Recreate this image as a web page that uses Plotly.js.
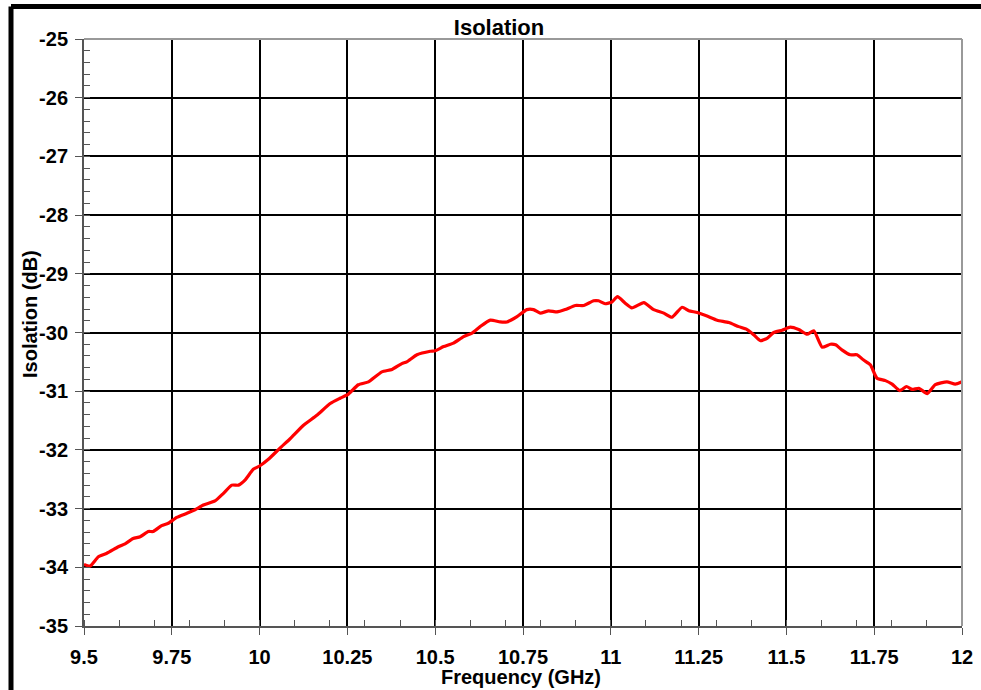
<!DOCTYPE html>
<html>
<head>
<meta charset="utf-8">
<script src="https://cdn.plot.ly/plotly-3.0.1.min.js"></script>
<style>html,body{margin:0;padding:0;background:#fff;}#chart{width:981px;height:690px;}</style>
</head>
<body>
<div id="chart"></div>
<script>
const freqGHz = [9.5, 9.517, 9.541, 9.565, 9.598, 9.617, 9.640, 9.660, 9.683, 9.697,
  9.721, 9.740, 9.764, 9.793, 9.816, 9.840, 9.873, 9.897, 9.921, 9.940,
  9.959, 9.982, 10.001, 10.025, 10.058, 10.087, 10.125, 10.163, 10.201, 10.229,
  10.253, 10.281, 10.310, 10.348, 10.377, 10.405, 10.419, 10.448, 10.486, 10.500,
  10.524, 10.552, 10.581, 10.605, 10.628, 10.657, 10.685, 10.704, 10.733, 10.761,
  10.780, 10.799, 10.823, 10.847, 10.870, 10.899, 10.923, 10.951, 10.965, 10.984,
  11.003, 11.019, 11.041, 11.060, 11.094, 11.122, 11.151, 11.174, 11.203, 11.222,
  11.246, 11.274, 11.303, 11.336, 11.364, 11.388, 11.407, 11.426, 11.445, 11.464,
  11.488, 11.511, 11.535, 11.559, 11.578, 11.602, 11.625, 11.640, 11.659, 11.682,
  11.701, 11.720, 11.739, 11.758, 11.782, 11.801, 11.823, 11.842, 11.858, 11.877,
  11.901, 11.924, 11.957, 11.981, 12.0];
const isolationDB = [-33.95, -33.98, -33.82, -33.76, -33.65, -33.60, -33.51, -33.48, -33.39, -33.39,
  -33.29, -33.25, -33.15, -33.08, -33.02, -32.94, -32.87, -32.74, -32.60, -32.60,
  -32.51, -32.33, -32.27, -32.16, -31.97, -31.81, -31.58, -31.41, -31.21, -31.12,
  -31.05, -30.89, -30.84, -30.67, -30.63, -30.53, -30.50, -30.38, -30.32, -30.31,
  -30.24, -30.18, -30.07, -30.01, -29.90, -29.79, -29.82, -29.82, -29.73, -29.61,
  -29.61, -29.67, -29.63, -29.65, -29.61, -29.54, -29.54, -29.46, -29.46, -29.51,
  -29.48, -29.39, -29.50, -29.58, -29.49, -29.61, -29.67, -29.74, -29.57, -29.63,
  -29.66, -29.72, -29.79, -29.83, -29.90, -29.95, -30.04, -30.14, -30.10, -30.00,
  -29.96, -29.91, -29.95, -30.03, -29.97, -30.25, -30.20, -30.21, -30.30, -30.38,
  -30.38, -30.47, -30.55, -30.78, -30.82, -30.88, -30.99, -30.92, -30.97, -30.95,
  -31.04, -30.89, -30.84, -30.88, -30.84];
const xTickVals = [9.5, 9.75, 10, 10.25, 10.5, 10.75, 11, 11.25, 11.5, 11.75, 12];
const xTickText = ["9.5", "9.75", "10", "10.25", "10.5", "10.75", "11", "11.25", "11.5", "11.75", "12"];
const yTickVals = [-25, -26, -27, -28, -29, -30, -31, -32, -33, -34, -35];
const yTickText = ["-25", "-26", "-27", "-28", "-29", "-30", "-31", "-32", "-33", "-34", "-35"];
const chartTitle = "Isolation";
const xTitle = "Frequency (GHz)";
const yTitle = "Isolation (dB)";

const FONT = "Liberation Sans, Arial, sans-serif";

const trace = {
  x: freqGHz, y: isolationDB, type: "scatter", mode: "lines",
  line: {color: "#ff0000", width: 3.2, shape: "spline", smoothing: 0.5},
  hoverinfo: "skip"
};

const layout = {
  width: 981, height: 690,
  margin: {l: 84, r: 19, t: 39, b: 64},
  paper_bgcolor: "#ffffff", plot_bgcolor: "#ffffff",
  showlegend: false,
  font: {family: FONT, color: "#000", size: 18},
  title: {text: "<b>" + chartTitle + "</b>", x: 0.4727, xref: "paper", xanchor: "center",
          y: 1 - 27/690, yref: "container", yanchor: "middle",
          font: {family: FONT, size: 22, color: "#000"}},
  xaxis: {
    range: [9.5, 12], tickmode: "array", tickvals: xTickVals, ticktext: xTickText,
    ticks: "outside", ticklen: 7, tickwidth: 1, tickcolor: "#555",
    ticklabelstandoff: 5,
    showgrid: true, gridcolor: "#000", gridwidth: 2,
    showline: true, linecolor: "#555", linewidth: 2,
    zeroline: false,
    tickfont: {family: FONT, size: 20, color: "#000", weight: "bold"},
    minor: {dtick: 0.1, tick0: 9.5, ticks: "inside", ticklen: 6, tickwidth: 1, tickcolor: "#555", showgrid: false}
  },
  yaxis: {
    range: [-35, -25], tickmode: "array", tickvals: yTickVals, ticktext: yTickText,
    ticks: "outside", ticklen: 7, tickwidth: 1, tickcolor: "#555",
    ticklabelstandoff: 3,
    showgrid: true, gridcolor: "#000", gridwidth: 2,
    showline: true, linecolor: "#555", linewidth: 2,
    zeroline: false,
    tickfont: {family: FONT, size: 20, color: "#000", weight: "bold"},
    minor: {dtick: 0.2, tick0: -35, ticks: "inside", ticklen: 6, tickwidth: 1, tickcolor: "#555", showgrid: false}
  },
  annotations: [
    {text: "<b>" + xTitle + "</b>", xref: "paper", yref: "paper", x: (521-84)/878, y: (626-677)/587,
     xanchor: "center", yanchor: "middle", showarrow: false, font: {family: FONT, size: 20, color: "#000"}},
    {text: "<b>" + yTitle + "</b>", xref: "paper", yref: "paper", x: (30-84)/878, y: (626-314)/587,
     xanchor: "center", yanchor: "middle", textangle: -90, showarrow: false, font: {family: FONT, size: 20, color: "#000"}}
  ],
  shapes: [
    {type: "line", xref: "paper", yref: "paper", x0: 1, x1: 1, y0: 0, y1: 1, line: {color: "#999", width: 2}, layer: "above"},
    {type: "line", xref: "paper", yref: "paper", x0: 0, x1: 1, y0: 1, y1: 1, line: {color: "#999", width: 2}, layer: "above"},
    {type: "line", xref: "paper", yref: "paper", x0: (11-84)/878, x1: (11-84)/878, y0: -0.2, y1: 1 + (39-6.5)/587, line: {color: "#000", width: 5}},
    {type: "line", xref: "paper", yref: "paper", x0: (11-84)/878, x1: 1.1, y0: 1 + (39-6.5)/587, y1: 1 + (39-6.5)/587, line: {color: "#000", width: 5}}
  ]
};

Plotly.newPlot("chart", [trace], layout, {displayModeBar: false, staticPlot: true});
</script>
</body>
</html>
